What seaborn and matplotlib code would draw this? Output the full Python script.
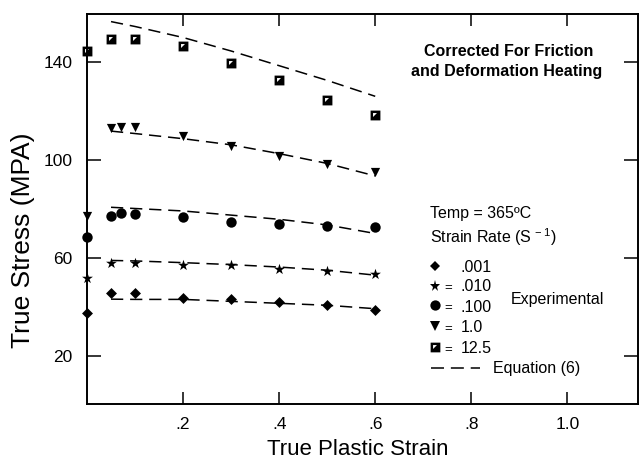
import numpy as np
import pandas as pd
import matplotlib
matplotlib.use("Agg")
import matplotlib.pyplot as plt
from matplotlib.path import Path
from matplotlib.markers import MarkerStyle
import seaborn as sns

# ---------------- data ----------------
strain_eq = [0.05, 0.1, 0.2, 0.3, 0.4, 0.5, 0.6]
eq_125 = [156.5, 154.5, 150.0, 144.5, 138.5, 132.5, 126.0]
eq_10 = [111.8, 110.8, 108.7, 106.2, 102.6, 98.6, 93.5]
eq_0100 = [80.7, 80.2, 79.2, 77.5, 75.8, 73.5, 70.0]
eq_0010 = [59.0, 58.8, 58.1, 57.3, 56.3, 55.0, 53.0]
eq_0001 = [43.2, 43.1, 43.1, 42.3, 41.5, 40.7, 39.3]

strain_a = [0.0, 0.05, 0.1, 0.2, 0.3, 0.4, 0.5, 0.6]
strain_b = [0.0, 0.05, 0.07, 0.1, 0.2, 0.3, 0.4, 0.5, 0.6]
exp_125 = [144.5, 149.4, 149.4, 146.5, 139.7, 132.6, 124.5, 118.4]
exp_10 = [77.0, 112.9, 113.6, 113.6, 109.8, 105.8, 101.6, 98.2, 95.2]
exp_0100 = [68.6, 77.3, 78.2, 78.0, 76.6, 74.8, 73.7, 73.1, 72.8]
exp_0010 = [51.7, 58.1, 58.1, 57.1, 57.1, 55.4, 54.8, 53.3]
exp_0001 = [37.4, 45.8, 45.6, 43.5, 43.1, 42.2, 40.8, 38.8]

x_ticks = [0.2, 0.4, 0.6, 0.8, 1.0]
x_tick_labels = [".2", ".4", ".6", ".8", "1.0"]
y_ticks = [20, 60, 100, 140]
rate_labels = [".001", ".010", ".100", "1.0", "12.5"]

# ---------------- style ----------------
sns.set_theme(style="white")
plt.rcParams["font.family"] = ["Liberation Sans", "DejaVu Sans"]
plt.rcParams["mathtext.fontset"] = "custom"
plt.rcParams["mathtext.rm"] = "Liberation Sans"
plt.rcParams["mathtext.default"] = "regular"
plt.rcParams["text.color"] = "black"
plt.rcParams["axes.labelcolor"] = "black"
plt.rcParams["xtick.color"] = "black"
plt.rcParams["ytick.color"] = "black"

# half-filled square marker (black square with white upper-left triangle)
sq_verts = [(-1, -1), (1, -1), (1, 1), (-1, 1), (-1, -1),
            (-0.5, 0.5), (0.3, 0.5), (-0.5, -0.3), (-0.5, 0.5)]
sq_codes = [Path.MOVETO, Path.LINETO, Path.LINETO, Path.LINETO, Path.CLOSEPOLY,
            Path.MOVETO, Path.LINETO, Path.LINETO, Path.CLOSEPOLY]
sq_marker = MarkerStyle(Path(sq_verts, sq_codes))

fig = plt.figure(figsize=(6.4, 4.61), dpi=100)
ax = fig.add_axes([87 / 640, (461 - 404) / 461, 551 / 640, 390 / 461])

dash = (0, (8, 4.5))
lw = 1.1

series = [
    (strain_a, exp_0001, eq_0001, "D", 31),
    (strain_a, exp_0010, eq_0010, "*", 68),
    (strain_b, exp_0100, eq_0100, "o", 56),
    (strain_b, exp_10, eq_10, "v", 44),
    (strain_a, exp_125, eq_125, sq_marker, 50),
]

for xs, ys, eq, mk, size in series:
    df_eq = pd.DataFrame({"strain": strain_eq, "stress": eq})
    sns.lineplot(data=df_eq, x="strain", y="stress", ax=ax, color="black",
                 lw=lw, linestyle=dash, estimator=None, errorbar=None,
                 sort=True, zorder=2)
    df_ex = pd.DataFrame({"strain": xs, "stress": ys})
    sns.scatterplot(data=df_ex, x="strain", y="stress", ax=ax, marker=mk,
                    s=size, color="black", linewidth=0, clip_on=False,
                    zorder=3)

ax.set_xlim(0, 1.147)
ax.set_ylim(0.4, 159.6)
ax.set_xticks(x_ticks)
ax.set_xticklabels(x_tick_labels)
ax.set_yticks(y_ticks)

for s in ax.spines.values():
    s.set_linewidth(1.4)
    s.set_color("black")

ax.tick_params(axis="x", direction="in", length=8.5, width=1.1, top=True,
               bottom=True, labelsize=12.5, pad=9.5, colors="black")
ax.tick_params(axis="y", direction="in", length=10, width=1.1, left=True,
               right=True, labelsize=12.5, pad=10.5, colors="black")

ax.set_xlabel("True Plastic Strain", fontsize=16, color="black")
ax.set_ylabel("True Stress (MPA)", fontsize=19, color="black")
ax.xaxis.set_label_coords(0.492, -0.09)
ax.yaxis.set_label_coords(-0.095, 0.42)

# ---------------- annotations / key ----------------
T = ax.transAxes
fs = 11.5
ax.text(0.766, 0.892, "Corrected For Friction", transform=T, ha="center",
        va="baseline", fontsize=fs, fontweight="bold", color="black")
ax.text(0.762, 0.841, "and Deformation Heating", transform=T, ha="center",
        va="baseline", fontsize=fs, fontweight="bold", color="black")
ax.text(0.6225, 0.477, "Temp = 365ºC", transform=T, ha="left",
        va="baseline", fontsize=fs, color="black")
ax.text(0.6225, 0.413, "Strain Rate (S$^{\\,-1}$)", transform=T, ha="left",
        va="baseline", fontsize=fs, color="black")

key_marker_y = [0.355, 0.303, 0.254, 0.200, 0.146]
key_text_y = [0.338, 0.290, 0.237, 0.185, 0.1316]
key_markers = [("D", 5.4), ("*", 8.2), ("o", 7.4), ("v", 6.6), (sq_marker, 7.0)]
for i, ((mk, ms), my, ty, lab) in enumerate(zip(key_markers, key_marker_y,
                                                 key_text_y, rate_labels)):
    ax.plot([0.632], [my], transform=T, marker=mk, ms=ms, color="black",
            mew=0, ls="none", clip_on=False)
    if i > 0:
        ax.text(0.655, ty, "=", transform=T, ha="center", va="baseline",
                fontsize=fs - 2, color="black")
    ax.text(0.678, ty, lab, transform=T, ha="left", va="baseline",
            fontsize=fs, color="black")

ax.text(0.769, 0.256, "Experimental", transform=T, ha="left",
        va="baseline", fontsize=fs, color="black")
ax.plot([0.624, 0.713], [0.093, 0.093], transform=T, color="black", lw=lw,
        linestyle=(0, (8.5, 4.5)))
ax.text(0.737, 0.079, "Equation (6)", transform=T, ha="left",
        va="baseline", fontsize=fs, color="black")

fig.savefig("out.png", dpi=100)
